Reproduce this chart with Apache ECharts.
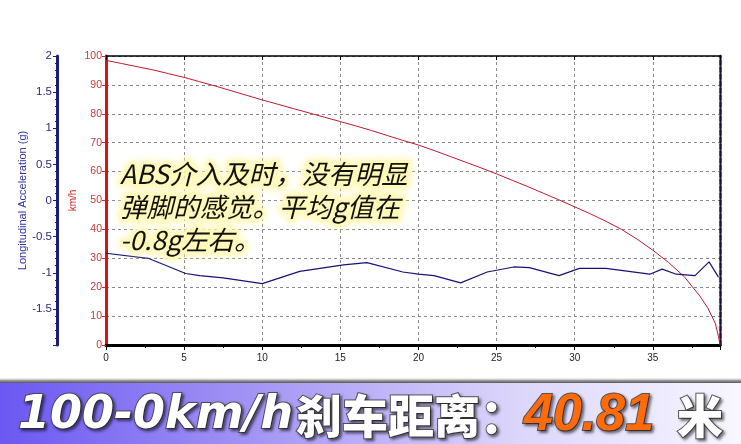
<!DOCTYPE html>
<html><head><meta charset="utf-8">
<script src="https://cdn.jsdelivr.net/npm/echarts@6/dist/echarts.min.js"></script>
<style>html,body{margin:0;padding:0;background:#fff}#c{width:741px;height:444px}</style>
</head><body><div id="c"></div>
<script>
// Speed trace (km/h) vs distance (m)
const speedDist = [0,1,2,3,4,5,6,7,8,9,10,11,12,13,14,15,16,17,18,19,20,21,22,23,24,25,26,27,28,29,30,31,32,33,34,35,36,37,38,38.5,39,39.2,39.3];
const speedVals = [98.5,97.4,96.3,95.2,93.9,92.6,91.1,89.6,88.0,86.4,84.8,83.3,81.8,80.3,78.8,77.3,75.8,74.2,72.5,70.8,69.2,67.3,65.3,63.3,61.3,59.2,57.0,54.8,52.5,50.2,47.8,45.4,42.8,40.0,36.6,32.8,28.6,23.7,17.0,13.0,7.5,3.0,0];
// Longitudinal acceleration (g) vs distance (m)
const accDist = [0,2.7,5.1,6,7.5,10,12.4,15.2,16.7,19,20,21,22.7,24.4,26.1,27.1,29,30.3,32,34.8,35.6,36.5,37.7,38.6,39.2];
const accVals = [-0.73,-0.80,-1.01,-1.04,-1.07,-1.15,-0.98,-0.89,-0.86,-0.99,-1.02,-1.04,-1.14,-0.99,-0.92,-0.93,-1.04,-0.94,-0.94,-1.02,-0.95,-1.02,-1.04,-0.85,-1.06];
const accTicks = ['2','1.5','1','0.5','0','-0.5','-1','-1.5'];
const noteLines = ['ABS介入及时，没有明显','弹脚的感觉。平均g值在','-0.8g左右。'];
const bannerParts = ['100-0km/h','刹车距离','：','40.81','米'];

const speedData = speedDist.map((d,i)=>[d,speedVals[i]]);
const accData = accDist.map((d,i)=>[d,accVals[i]]);

const chart = echarts.init(document.getElementById('c'));
const xMax = 39.3;
const latinBanner = 'italic bold 46px "DejaVu Sans", sans-serif';
const numBanner = 'italic bold 52px "Liberation Sans", Arial, sans-serif';
const cjkBanner = '900 46px "Noto Sans CJK SC", sans-serif';
function bannerText(x, txt, font, fill){
  return {type:'text', x:x, y:416, z:6, style:{
    text:txt, font:font, fill:fill, verticalAlign:'middle', align:'left',
    stroke:'rgba(70,70,70,0.9)', lineWidth:2,
    textShadowColor:'rgba(0,0,0,0.5)', textShadowBlur:3, textShadowOffsetX:2, textShadowOffsetY:2}};
}
chart.setOption({
  animation:false,
  backgroundColor:'#ffffff',
  grid:{left:106, right:21, top:56, bottom:99, containLabel:false},
  xAxis:[{
    type:'value', min:0, max:xMax, interval:5, position:'bottom',
    axisLine:{show:true, onZero:false, lineStyle:{color:'#000', width:3}},
    axisTick:{show:true, length:5, lineStyle:{color:'#000'}},
    minorTick:{show:true, splitNumber:2, length:3, lineStyle:{color:'#000'}},
    axisLabel:{color:'#222', fontSize:10, fontFamily:'"Liberation Sans", Arial', showMaxLabel:false, margin:8},
    splitLine:{show:true, lineStyle:{color:'#8a8a8a', type:[3,3], width:1}}
  },{
    type:'value', min:0, max:xMax, interval:5, position:'top',
    axisLine:{show:true, onZero:false, lineStyle:{color:'#000', width:1.5}},
    axisTick:{show:true, inside:true, length:4, lineStyle:{color:'#000'}},
    axisLabel:{show:false}, splitLine:{show:false}
  }],
  yAxis:[{
    type:'value', min:0, max:100, interval:10, position:'left', offset:0,
    axisLine:{show:true, onZero:false, lineStyle:{color:'#dd1111', width:3}},
    axisTick:{show:true, length:4, lineStyle:{color:'#cc2222'}},
    axisLabel:{color:'#c03a3a', fontSize:10.5, fontFamily:'"Liberation Sans", Arial', margin:4},
    splitLine:{show:true, lineStyle:{color:'#8a8a8a', type:[3,3], width:1}},
    name:'km/h', nameLocation:'middle', nameGap:28, nameRotate:90, nameMoveOverlap:false,
    nameTextStyle:{color:'#cc2222', fontSize:10, fontFamily:'"Liberation Sans", Arial'}
  },{
    type:'value', min:-2, max:2, interval:0.5, position:'left', offset:49,
    axisLine:{show:true, onZero:false, lineStyle:{color:'#1c1c78', width:3}},
    axisTick:{show:true, length:4, lineStyle:{color:'#1c1c78'}},
    minorTick:{show:true, splitNumber:5, length:2, lineStyle:{color:'#1c1c78'}},
    axisLabel:{color:'#2a2a80', fontSize:11.5, fontFamily:'"Liberation Sans", Arial', margin:5,
      formatter:v=>{const s=String(v); return accTicks.indexOf(s)>=0?s:'';}},
    splitLine:{show:false},
    name:'Longitudinal Acceleration (g)', nameLocation:'middle', nameGap:29, nameRotate:90, nameMoveOverlap:false,
    nameTextStyle:{color:'#3030a0', fontSize:11, fontFamily:'"Liberation Sans", Arial'}
  },{
    type:'value', min:0, max:100, position:'right',
    axisLine:{show:true, onZero:false, lineStyle:{color:'#15153a', width:2.5, type:[5,2]}},
    axisTick:{show:false}, axisLabel:{show:false}, splitLine:{show:false}
  }],
  series:[{
    type:'line', data:speedData, xAxisIndex:0, yAxisIndex:0, showSymbol:false, smooth:false,
    lineStyle:{color:'#c01830', width:1}, z:3
  },{
    type:'line', data:accData, xAxisIndex:0, yAxisIndex:1, showSymbol:false,
    lineStyle:{color:'#141478', width:1.2}, z:4
  }],
  graphic:[
    {type:'text', x:120, y:157, z:10, style:{
      text:noteLines.join('\n'), fill:'#111', font:'italic 26.5px "Noto Sans CJK SC", sans-serif', lineHeight:33,
      stroke:'rgba(255,250,195,0.95)', lineWidth:6,
      textShadowColor:'rgba(255,245,160,0.95)', textShadowBlur:9}},
    {type:'rect', shape:{x:0,y:377,width:741,height:7}, z:5, style:{fill:new echarts.graphic.LinearGradient(0,0,0,1,[{offset:0,color:'rgba(255,255,255,0)'},{offset:0.5,color:'#9a9a9a'},{offset:1,color:'#3a3a3a'}])}},
    {type:'rect', shape:{x:0,y:383,width:741,height:61}, z:5, style:{fill:new echarts.graphic.LinearGradient(0,0,1,0,[{offset:0,color:'#6a58f2'},{offset:0.35,color:'#a496f4'},{offset:0.7,color:'#dcd6fb'},{offset:1,color:'#f8f6ff'}])}},
    bannerText(18, bannerParts[0], latinBanner, '#ffffff'),
    bannerText(296, bannerParts[1], cjkBanner, '#ffffff'),
    bannerText(480, bannerParts[2], cjkBanner, '#ffffff'),
    bannerText(524, bannerParts[3], numBanner, '#ff6a0a'),
    bannerText(677, bannerParts[4], cjkBanner, '#ffffff')
  ]
});
</script></body></html>
